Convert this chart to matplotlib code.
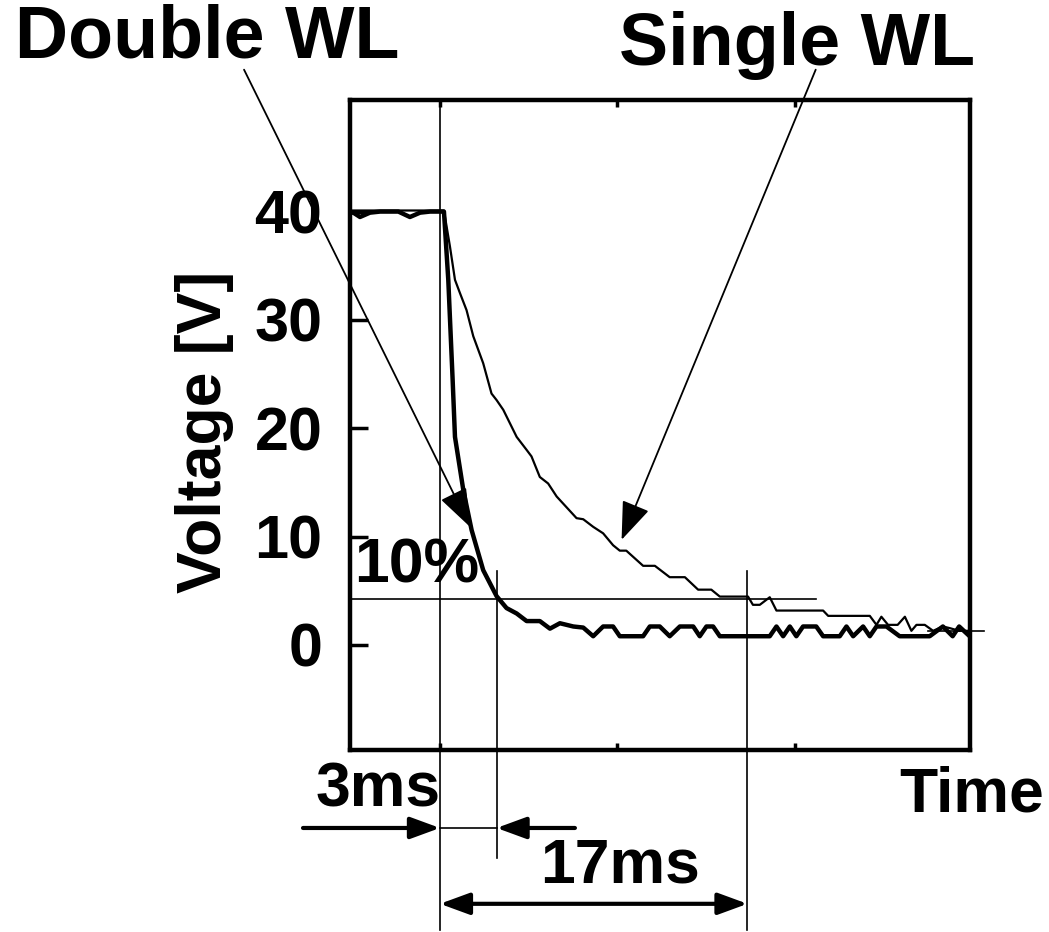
import matplotlib.pyplot as plt

# time in ms (0 = word line switched off), voltage in V
t_double = [-4.97, -4.79, -4.42, -3.87, -3.31, -2.3, -1.66, -1.1, -0.55, 0.22, 0.46, 0.7, 0.83,
            1.29, 1.75, 2.39, 3.13, 3.68, 4.24, 4.79, 5.52, 6.08, 6.63, 7.37, 7.92, 8.47, 9.02,
            9.57, 9.94, 11.23, 11.6, 12.15, 12.7, 13.26, 14.0, 14.36, 14.73, 15.1, 15.47, 18.23,
            18.6, 18.97, 19.34, 19.7, 20.07, 20.8, 21.18, 22.1, 22.47, 22.84, 23.39, 23.76,
            24.13, 24.68, 25.41, 27.07, 27.8, 28.34, 28.7, 29.28]
v_double = [39.9, 39.9, 39.5, 39.9, 40.0, 40.0, 39.5, 39.9, 40.0, 40.0, 33.7, 24.5, 19.2,
            14.3, 10.6, 6.9, 4.5, 3.4, 2.9, 2.2, 2.2, 1.5, 2.0, 1.7, 1.6, 0.8, 1.7,
            1.7, 0.8, 0.8, 1.7, 1.7, 0.8, 1.7, 1.7, 0.8, 1.7, 1.7, 0.8, 0.8,
            1.7, 0.8, 1.7, 0.8, 1.7, 1.7, 0.8, 0.8, 1.7, 0.8, 1.7, 0.8,
            1.7, 1.7, 0.8, 0.8, 1.7, 0.8, 1.7, 0.8]

t_single = [-4.97, 0.22, 0.55, 0.83, 1.1, 1.47, 1.84, 2.39, 2.85, 3.13, 3.5, 4.24, 4.79, 5.06,
            5.52, 5.98, 6.45, 7.0, 7.55, 7.92, 8.47, 9.02, 9.57, 9.94, 10.3, 11.23, 11.88, 12.7,
            13.54, 14.27, 15.0, 15.47, 17.03, 17.3, 17.68, 18.23, 18.6, 21.18, 21.46, 23.76,
            24.13, 24.4, 24.77, 25.3, 25.7, 26.06, 26.34, 26.8, 27.26, 27.8, 28.18, 28.7, 29.28]
v_single = [40.1, 40.1, 36.8, 33.7, 32.5, 30.9, 28.5, 26.0, 23.2, 22.6, 21.7, 19.2, 18.0, 17.4,
            15.5, 14.9, 13.7, 12.7, 11.7, 11.6, 10.9, 10.3, 9.2, 8.7, 8.7, 7.3, 7.3, 6.25,
            6.25, 5.1, 5.1, 4.46, 4.46, 3.7, 3.7, 4.4, 3.17, 3.17, 2.68, 2.68,
            1.85, 2.6, 1.85, 1.85, 2.6, 1.3, 1.85, 1.85, 1.3, 1.7, 1.55, 1.3, 1.3]

y_ticks = [0, 10, 20, 30, 40]
x_ticks = [0, 9.8, 19.6]
level_10pct = 4.2
t_double_10 = 3.13    # 3ms
t_single_10 = 17.0    # 17ms

plt.rcParams['font.family'] = ['Liberation Sans', 'DejaVu Sans']
plt.rcParams['font.weight'] = 'bold'

fig = plt.figure(figsize=(10.49, 9.32), dpi=100)
ax = fig.add_axes([0.3337, 0.1953, 0.591, 0.6974])

ax.plot(t_single, v_single, color='black', lw=1.6)
ax.plot(t_double, v_double, color='black', lw=3.2)

ax.set_xlim(-4.97, 29.3)
ax.set_ylim(-9.7, 50.3)
for s in ax.spines.values():
    s.set_linewidth(3.2)

ax.set_yticks(y_ticks)
ax.set_yticklabels([str(v) for v in y_ticks], fontsize=44, fontweight='bold')
ax.tick_params(axis='y', direction='in', length=13, width=2.5, pad=20)
ax.set_xticks(x_ticks)
ax.set_xticklabels([])
ax.tick_params(axis='x', direction='in', length=5, width=2.5, top=True)

fig.text(0.1954, 0.5365, 'Voltage [V]', rotation=90, fontsize=45, fontweight='bold',
         ha='center', va='center')

# 10% level and marker lines
ax.plot([-4.97, 20.8], [level_10pct, level_10pct], color='black', lw=1.2)
ax.plot([27.0, 30.1], [1.3, 1.3], color='black', lw=1.2, clip_on=False)
ax.plot([0, 0], [50.3, -26.3], color='black', lw=1.2, clip_on=False)
ax.plot([t_double_10, t_double_10], [6.8, -19.7], color='black', lw=1.2, clip_on=False)
ax.plot([t_single_10, t_single_10], [6.8, -26.3], color='black', lw=1.2, clip_on=False)
ax.text(-4.75, 7.3, '10%', fontsize=45, fontweight='bold', ha='left', va='center')

# pointers to the curves
head = '-|>,head_length=0.8,head_width=0.3'
ax.annotate('', xy=(1.66, 10.9), xytext=(-10.83, 53.1), annotation_clip=False,
            arrowprops=dict(arrowstyle=head, mutation_scale=30, lw=1.3, color='black',
                            shrinkA=0, shrinkB=0))
ax.annotate('', xy=(10.04, 9.7), xytext=(20.77, 53.1), annotation_clip=False,
            arrowprops=dict(arrowstyle=head, mutation_scale=30, lw=1.3, color='black',
                            shrinkA=0, shrinkB=0))
fig.text(15 / 1049, 1 - 38 / 932, 'Double WL', fontsize=53, fontweight='bold',
         ha='left', va='center')
fig.text(975 / 1049, 1 - 45 / 932, 'Single WL', fontsize=53, fontweight='bold',
         ha='right', va='center')

# interval arrows
y3 = -16.9
ax.plot([0, t_double_10], [y3, y3], color='black', lw=1.2, clip_on=False)
ax.annotate('', xy=(0, y3), xytext=(-7.57, y3), annotation_clip=False,
            arrowprops=dict(arrowstyle='-|>,head_length=0.6,head_width=0.22',
                            mutation_scale=30, lw=3, color='black', shrinkA=0, shrinkB=0))
ax.annotate('', xy=(t_double_10, y3), xytext=(7.46, y3), annotation_clip=False,
            arrowprops=dict(arrowstyle='-|>,head_length=0.6,head_width=0.22',
                            mutation_scale=30, lw=3, color='black', shrinkA=0, shrinkB=0))
ax.text(-3.43, -13.4, '3ms', fontsize=45, fontweight='bold', ha='center', va='center')

y17 = -23.9
ax.annotate('', xy=(t_single_10, y17), xytext=(0, y17), annotation_clip=False,
            arrowprops=dict(arrowstyle='<|-|>,head_length=0.6,head_width=0.22',
                            mutation_scale=30, lw=3, color='black', shrinkA=0, shrinkB=0))
ax.text(9.95, -20.4, '17ms', fontsize=45, fontweight='bold', ha='center', va='center')
ax.text(29.4, -13.9, 'Time', fontsize=45, fontweight='bold', ha='center', va='center')

plt.savefig('out.png', dpi=100)
